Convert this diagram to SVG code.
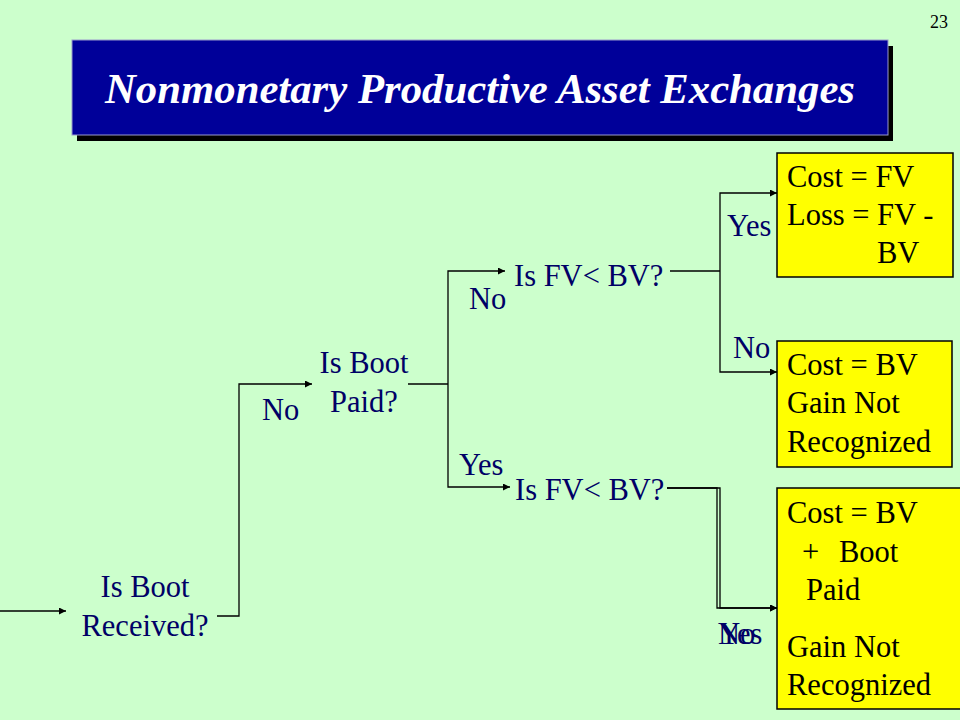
<svg xmlns="http://www.w3.org/2000/svg" width="960" height="720" viewBox="0 0 960 720">
<defs>
<marker id="arr" viewBox="0 0 10 10" refX="10" refY="5" markerWidth="10" markerHeight="7" markerUnits="userSpaceOnUse" orient="auto">
<path d="M0,0 L10,5 L0,10 z" fill="#000"/>
</marker>
<style>
.q{font-family:"Liberation Serif","Times New Roman",serif;font-size:30.5px;fill:#000066}
.b{font-family:"Liberation Serif","Times New Roman",serif;font-size:30.5px;fill:#000}
.box{fill:#FFFF00;stroke:#000;stroke-width:1.5}
.c{fill:none;stroke:#000;stroke-width:1.3}
.ca{fill:none;stroke:#000;stroke-width:1.3;marker-end:url(#arr)}
</style>
</defs>
<rect width="960" height="720" fill="#CCFFCC"/>
<text x="948" y="28" text-anchor="end" font-family="Liberation Serif, serif" font-size="18" fill="#000">23</text>
<g id="title">
<rect x="77" y="46" width="816" height="95" fill="#000"/>
<rect x="72" y="40" width="816" height="95" fill="#000099" stroke="#9999cc" stroke-width="1"/>
<text x="480" y="103" text-anchor="middle" font-family="Liberation Serif, serif" font-weight="bold" font-style="italic" font-size="42" fill="#fff" textLength="750" lengthAdjust="spacingAndGlyphs">Nonmonetary Productive Asset Exchanges</text>
</g>
<g id="connectors">
<line class="ca" x1="0" y1="611" x2="66" y2="611"/>
<polyline class="ca" points="217,616 239,616 239,384 312,384"/>
<line class="c" x1="408" y1="384" x2="448" y2="384"/>
<polyline class="ca" points="448,384 448,271 505,271"/>
<polyline class="ca" points="448,384 448,487 510,487"/>
<line class="c" x1="670" y1="271" x2="720" y2="271"/>
<polyline class="ca" points="720,271 720,193 777,193"/>
<polyline class="ca" points="720,271 720,372 777,372"/>
<polyline class="ca" points="667,488 720,488 720,608 777,608"/>
<polyline class="ca" points="667,488 717,488 717,608 777,608"/>
</g>
<g id="q-received">
<text class="q" x="145" y="597" text-anchor="middle">Is Boot</text>
<text class="q" x="145" y="636" text-anchor="middle">Received?</text>
</g>
<g id="q-paid">
<text class="q" x="364" y="373" text-anchor="middle">Is Boot</text>
<text class="q" x="364" y="412" text-anchor="middle">Paid?</text>
</g>
<g id="q-fv1"><text class="q" x="514" y="286">Is FV&lt; BV?</text></g>
<g id="q-fv2"><text class="q" x="515" y="500">Is FV&lt; BV?</text></g>
<g id="labels">
<text class="q" x="262" y="420">No</text>
<text class="q" x="469" y="309">No</text>
<text class="q" x="459" y="475">Yes</text>
<text class="q" x="727" y="236">Yes</text>
<text class="q" x="733" y="358">No</text>
<text class="q" x="718" y="644">Yes</text>
<text class="q" x="718" y="644">No</text>
</g>
<g id="r-loss">
<rect class="box" x="777" y="153" width="176" height="124"/>
<text class="b" x="787" y="187">Cost = FV</text>
<text class="b" x="787" y="225">Loss = FV -</text>
<text class="b" x="877" y="263">BV</text>
</g>
<g id="r-nogain">
<rect class="box" x="777" y="341" width="175" height="126"/>
<text class="b" x="787" y="375">Cost = BV</text>
<text class="b" x="787" y="413">Gain Not</text>
<text class="b" x="787" y="452">Recognized</text>
</g>
<g id="r-boot">
<rect class="box" x="777" y="488" width="190" height="221"/>
<text class="b" x="787" y="523">Cost = BV</text>
<text class="b" y="562"><tspan x="802">+</tspan><tspan x="839">Boot</tspan></text>
<text class="b" x="806" y="600">Paid</text>
<text class="b" x="787" y="657">Gain Not</text>
<text class="b" x="787" y="695">Recognized</text>
</g>
</svg>
